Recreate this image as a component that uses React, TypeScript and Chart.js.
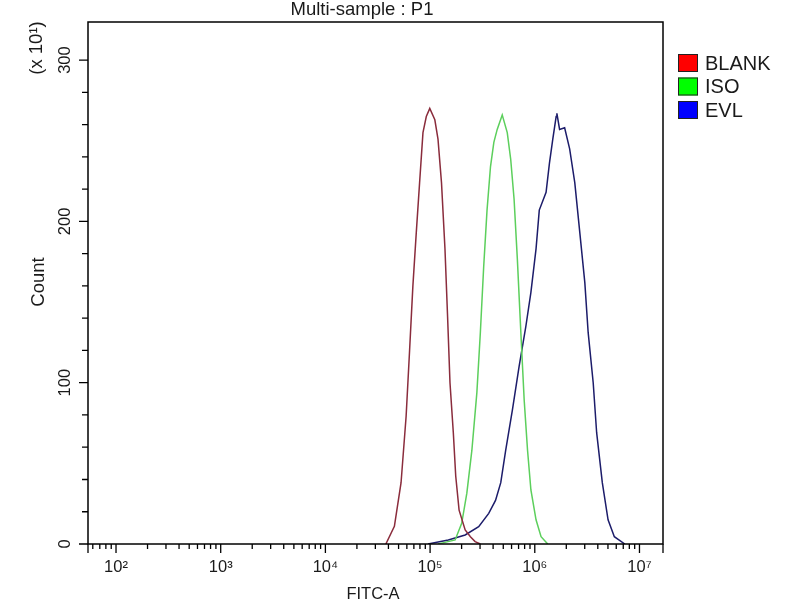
import React, { useEffect, useRef } from 'react';
import { Chart, registerables } from 'chart.js';

Chart.register(...registerables);

// ---- data (FITC-A intensity, Count in units of x10^1) ----
const BLANK_X = [37800, 45600, 52800, 59000, 63700, 68500, 73800, 79400, 85500, 92000, 99300, 111000, 119000, 128500, 138700, 146900, 154900, 166700, 175800, 189200, 216300, 242700, 269200, 302000];
const BLANK_Y = [0, 11, 38, 79, 120, 160, 193, 224, 255, 265, 270, 263, 251, 224, 183, 141, 100, 69, 42, 21, 8.7, 4.5, 1.5, 0];

const ISO_X = [119400, 138700, 173400, 200400, 224400, 250600, 279900, 302000, 325100, 349900, 377600, 406400, 437500, 488700, 545800, 588800, 633900, 682300, 736200, 792500, 853100, 918300, 1028000, 1148000, 1330000];
const ISO_Y = [0, 1, 2.5, 12.8, 31.5, 58, 94, 131, 172, 207, 234, 249, 257, 266, 255, 238.5, 214, 176, 131, 89, 58, 33.5, 15, 4.5, 0];

const EVL_X = [95500, 149300, 216300, 291100, 363100, 421700, 473200, 527200, 610900, 707900, 822400, 918300, 1028000, 1104000, 1282000, 1380000, 1486000, 1600000, 1626000, 1726000, 1928000, 2153000, 2410000, 2692000, 3006000, 3236000, 3614000, 3899000, 4416000, 5012000, 5754000, 7244000];
const EVL_Y = [0, 2.5, 5.6, 10.7, 19, 27, 38, 58, 83, 110, 135, 156, 183, 207, 218, 236, 251, 265, 267, 257, 258, 245, 224, 193, 162, 131, 100, 69, 38, 15, 4.5, 0];

const SERIES_NAMES = ['BLANK', 'ISO', 'EVL'];
const LINE_COLORS = ['#8a2c3c', '#5ccf5c', '#1c1c6a'];
const LEGEND_COLORS = ['#ff0000', '#00ff00', '#0000ff'];

const X_MIN = 54;
const X_MAX = 16777216;
const Y_MIN = 0;
const Y_MAX = 323.6;

const X_DECADES = [2, 3, 4, 5, 6, 7];
const X_DECADE_LABELS = ['10\u00B2', '10\u00B3', '10\u2074', '10\u2075', '10\u2076', '10\u2077'];
const Y_TICKS = [0, 20, 40, 60, 80, 100, 120, 140, 160, 180, 200, 220, 240, 260, 280, 300];
const Y_MAJOR = [0, 100, 200, 300];
const Y_LABELS = ['0', '100', '200', '300'];

const TITLE = 'Multi-sample : P1';
const X_TITLE = 'FITC-A';
const Y_TITLE = 'Count';
const Y_UNIT = '(x 10\u00B9)';

const FONT = "'Liberation Sans', Arial, sans-serif";
const TEXT_COLOR = '#1a1a1a';

function buildXTicks(): number[] {
  const out: number[] = [];
  for (let e = 1; e <= 7; e++) {
    for (let m = 1; m <= 9; m++) {
      const v = m * Math.pow(10, e);
      if (v >= X_MIN && v <= X_MAX) out.push(v);
    }
  }
  return out;
}

function isDecade(v: number): number {
  const l = Math.log10(v);
  const r = Math.round(l);
  return Math.abs(l - r) < 1e-9 ? r : -1;
}

const decorPlugin = {
  id: 'decor',
  afterDraw(chart: any) {
    const ctx = chart.ctx;
    const { left, right, top, bottom } = chart.chartArea;
    const xs = chart.scales.x;
    const ys = chart.scales.y;
    ctx.save();
    ctx.strokeStyle = '#000';
    ctx.lineWidth = 1.5;
    ctx.strokeRect(left, top, right - left, bottom - top);
    // x ticks
    ctx.lineWidth = 1.3;
    ctx.beginPath();
    xs.ticks.forEach((t: any) => {
      const px = xs.getPixelForValue(t.value);
      const len = isDecade(t.value) >= 0 ? 9 : 5;
      ctx.moveTo(px, bottom);
      ctx.lineTo(px, bottom + len);
    });
    ctx.moveTo(right, bottom);
    ctx.lineTo(right, bottom + 9);
    ctx.moveTo(left, bottom);
    ctx.lineTo(left, bottom + 9);
    // y ticks
    ys.ticks.forEach((t: any) => {
      const py = ys.getPixelForValue(t.value);
      const len = Y_MAJOR.indexOf(t.value) >= 0 ? 9 : 6;
      ctx.moveTo(left, py);
      ctx.lineTo(left - len, py);
    });
    ctx.stroke();

    ctx.fillStyle = TEXT_COLOR;
    // title
    ctx.font = `18.5px ${FONT}`;
    ctx.textAlign = 'center';
    ctx.textBaseline = 'alphabetic';
    ctx.fillText(TITLE, 362, 15);
    // x title
    ctx.font = `16.5px ${FONT}`;
    ctx.fillText(X_TITLE, 373, 599);
    // y title and unit (rotated)
    ctx.font = `18.5px ${FONT}`;
    ctx.save();
    ctx.translate(39, 282);
    ctx.rotate(-Math.PI / 2);
    ctx.textBaseline = 'middle';
    ctx.fillText(Y_TITLE, 0, 0);
    ctx.restore();
    ctx.save();
    ctx.translate(37, 48);
    ctx.rotate(-Math.PI / 2);
    ctx.textBaseline = 'middle';
    ctx.fillText(Y_UNIT, 0, 0);
    ctx.restore();

    // legend
    const lx = right + 15;
    const rowY = [63, 86.5, 110];
    chart.data.datasets.forEach((ds: any, i: number) => {
      const cy = rowY[i];
      ctx.fillStyle = ds.legendColor;
      ctx.fillRect(lx, cy - 9, 20, 18);
      ctx.strokeStyle = '#222';
      ctx.lineWidth = 1;
      ctx.strokeRect(lx + 0.5, cy - 9 + 0.5, 19, 17);
      ctx.fillStyle = TEXT_COLOR;
      ctx.font = `20px ${FONT}`;
      ctx.textAlign = 'left';
      ctx.textBaseline = 'middle';
      ctx.fillText(ds.label, lx + 27, cy + 1);
    });
    ctx.restore();
  },
};

function toPoints(xs: number[], ys: number[]) {
  return xs.map((x, i) => ({ x, y: ys[i] }));
}

export default function App() {
  const ref = useRef<HTMLCanvasElement | null>(null);
  useEffect(() => {
    if (!ref.current) return;
    const seriesX = [BLANK_X, ISO_X, EVL_X];
    const seriesY = [BLANK_Y, ISO_Y, EVL_Y];
    const chart = new Chart(ref.current, {
      type: 'line',
      data: {
        datasets: SERIES_NAMES.map((name, i) => ({
          label: name,
          data: toPoints(seriesX[i], seriesY[i]),
          borderColor: LINE_COLORS[i],
          borderWidth: 1.5,
          pointRadius: 0,
          tension: 0,
          fill: false,
          legendColor: LEGEND_COLORS[i],
        })) as any,
      },
      options: {
        animation: false,
        responsive: false,
        devicePixelRatio: 1,
        layout: { padding: { top: 22, right: 137, left: 0, bottom: 0 } },
        plugins: { legend: { display: false }, tooltip: { enabled: false }, title: { display: false } },
        scales: {
          x: {
            type: 'logarithmic',
            min: X_MIN,
            max: X_MAX,
            afterFit: (s: any) => { s.height = 56; },
            afterBuildTicks: (s: any) => { s.ticks = buildXTicks().map((v) => ({ value: v })); },
            grid: { display: false, drawTicks: true, tickLength: 9 },
            border: { display: false },
            ticks: {
              autoSkip: false,
              maxRotation: 0,
              minRotation: 0,
              padding: 5,
              color: TEXT_COLOR,
              font: { family: FONT, size: 16.5 },
              callback: (v: any) => {
                const e = isDecade(Number(v));
                const idx = X_DECADES.indexOf(e);
                return idx >= 0 ? X_DECADE_LABELS[idx] : '';
              },
            },
          },
          y: {
            type: 'linear',
            min: Y_MIN,
            max: Y_MAX,
            afterFit: (s: any) => { s.width = 88; },
            afterBuildTicks: (s: any) => { s.ticks = Y_TICKS.map((v) => ({ value: v })); },
            grid: { display: false, drawTicks: true, tickLength: 9 },
            border: { display: false },
            ticks: {
              autoSkip: false,
              minRotation: 90,
              maxRotation: 90,
              crossAlign: 'center',
              padding: 0,
              color: TEXT_COLOR,
              font: { family: FONT, size: 16.5 },
              callback: (v: any) => {
                const idx = Y_MAJOR.indexOf(Number(v));
                return idx >= 0 ? Y_LABELS[idx] : '';
              },
            },
          },
        },
      } as any,
      plugins: [decorPlugin],
    });
    return () => chart.destroy();
  }, []);
  return (
    <div style={{ position: 'absolute', left: 0, top: 0, width: 800, height: 600, background: '#fff' }}>
      <canvas ref={ref} width={800} height={600} />
    </div>
  );
}
